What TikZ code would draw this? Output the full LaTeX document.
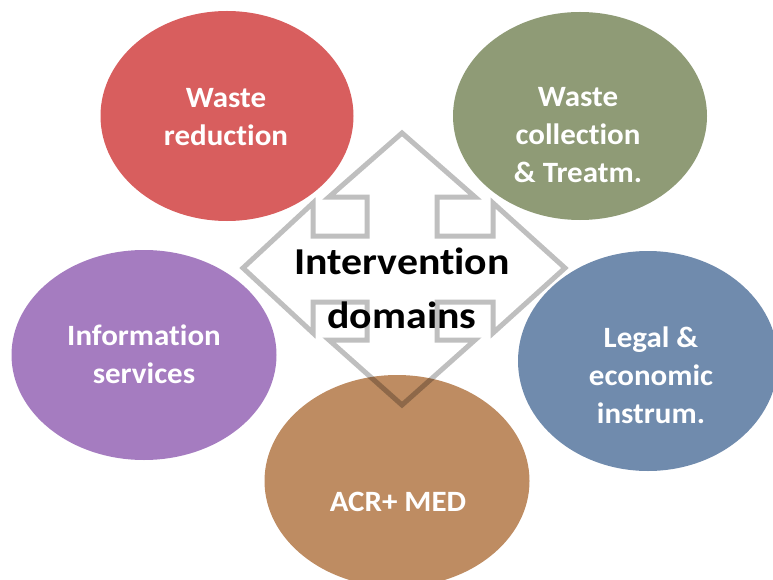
\documentclass[tikz,border=0pt]{standalone}
\usepackage{fontspec}
\setmainfont{Carlito}[Ligatures={NoCommon,NoRare}]
\usepackage{tikz}
\usetikzlibrary{shapes.geometric}

\definecolor{redD}{RGB}{216,94,94}
\definecolor{greenD}{RGB}{143,155,118}
\definecolor{purpleD}{RGB}{165,124,192}
\definecolor{blueD}{RGB}{112,139,173}
\definecolor{brownD}{RGB}{190,140,98}

\begin{document}
\begin{tikzpicture}[x=1pt,y=-1pt,
                    blob/.style={ellipse,draw=none,inner sep=0pt},
                    dlabel/.style={text=white,align=center,
                      font=\addfontfeature{FakeStretch=1.05}\fontsize{29.5}{38}\selectfont\bfseries}]
  \useasboundingbox (0,0) rectangle (773,580);

  % the five domains
  \node[blob,fill=redD,minimum width=253pt,minimum height=210pt]    (reduc) at (227,116) {};
  \node[blob,fill=greenD,minimum width=254pt,minimum height=208pt]  (collec) at (580,116) {};
  \node[blob,fill=purpleD,minimum width=265pt,minimum height=210pt] (info) at (144,355) {};
  \node[blob,fill=blueD,minimum width=260pt,minimum height=220pt]   (legal) at (648,361) {};
  \node[blob,fill=brownD,minimum width=265pt,minimum height=212pt]  (acr) at (397,481) {};

  \node[dlabel] (reducT)  at (226,117) {Waste\\reduction};
  \node[dlabel] (collecT) at (578,135) {Waste\\collection\\\& Treatm.};
  \node[dlabel] (infoT)   at (144,354) {Information\\services};
  \node[dlabel] (legalT)  at (651,375) {Legal \&\\economic\\instrum.};
  \node[dlabel] (acrT)    at (398,502) {ACR+ MED};

  % four-way arrow
  \draw[line width=5pt,black,draw opacity=0.25,line join=miter]
    (402,268) ++(0,-135) -- ++(73,64) -- ++(-38,0) -- ++(0,39) -- ++(56,0)
    -- ++(0,-33) -- ++(72,65) -- ++(-72,65) -- ++(0,-31) -- ++(-56,0)
    -- ++(0,38) -- ++(38,0) -- ++(-73,65) -- ++(-73,-65) -- ++(38,0)
    -- ++(0,-38) -- ++(-54,0) -- ++(0,31) -- ++(-70,-65) -- ++(70,-65)
    -- ++(0,33) -- ++(54,0) -- ++(0,-39) -- ++(-38,0) -- cycle;

  \node[align=center,font=\addfontfeature{FakeStretch=1.1}\fontsize{38}{54}\selectfont\bfseries] (center) at (402,288)
    {Intervention\\domains};
\end{tikzpicture}
\end{document}
